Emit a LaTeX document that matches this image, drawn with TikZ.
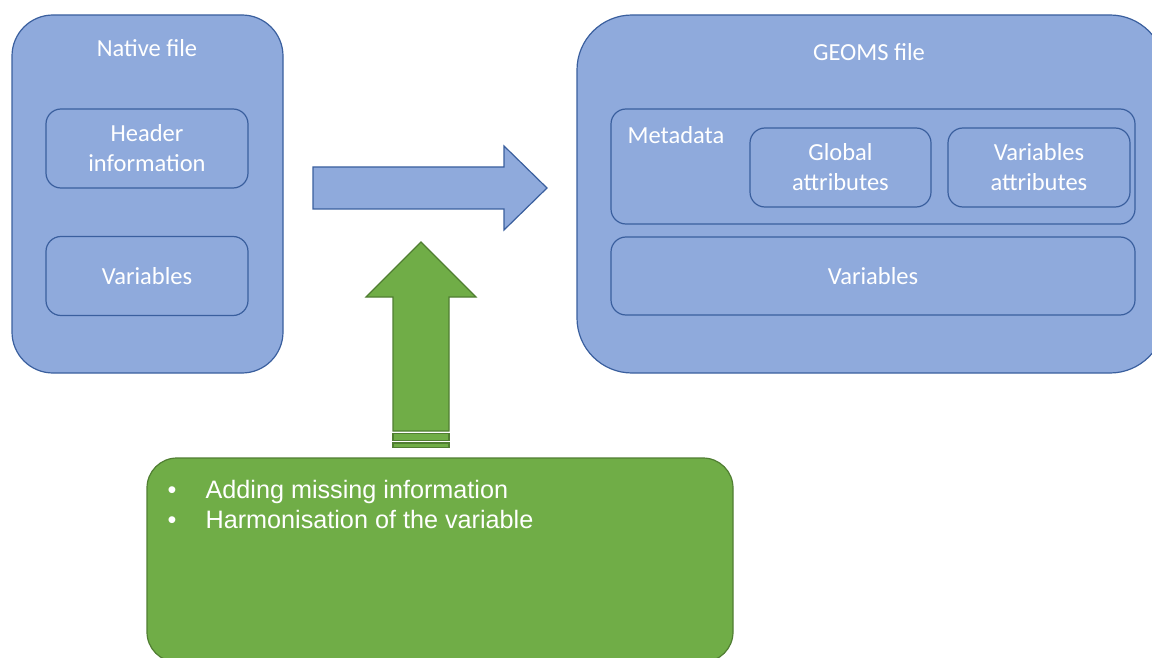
\documentclass[tikz,border=0pt]{standalone}
\usepackage{fontspec}
\setmainfont{Carlito}
\newfontfamily\listfont{Liberation Sans}
\usetikzlibrary{positioning}
\definecolor{boxblue}{HTML}{8FAADC}
\definecolor{lineblue}{HTML}{3A5F9E}
\definecolor{boxgreen}{HTML}{70AD47}
\definecolor{linegreen}{HTML}{507E32}

\begin{document}
\begin{tikzpicture}[x=1pt, y=-1pt, line width=1.2pt,
    file/.style = {draw=lineblue, fill=boxblue, inner sep=0pt},
    part/.style = {draw=lineblue, fill=boxblue, rounded corners=15pt, inner sep=0pt, text=white, align=center, font=\fontsize{24.5}{30}\selectfont},
    title/.style = {text=white, inner sep=0pt, font=\fontsize{24.5}{30}\selectfont},
    flow/.style = {draw=lineblue, fill=boxblue},
    push/.style = {draw=linegreen, fill=boxgreen}]
    \useasboundingbox (0,0) rectangle (1152,658);
    \clip (0,0) rectangle (1152,658);
    % native file
    \node[file, rounded corners=41pt, minimum width=271pt, minimum height=358pt] (native) at (147.5,194) {};
    \node[title] (nativetitle) at (147,48) {Native file};
    \node[part, minimum width=202pt, minimum height=79pt] (header) at (147,148.5) {Header\\information};
    \node[part, minimum width=202pt, minimum height=79pt] (nvars) at (147,276) {Variables};
    % geoms file
    \node[file, rounded corners=55pt, minimum width=588pt, minimum height=358pt] (geoms) at (871,194) {};
    \node[title] (geomstitle) at (869,52) {GEOMS file};
    \node[part, minimum width=524pt, minimum height=115pt] (meta) at (873,166.5) {};
    \node[title, anchor=west] (metatitle) at (627,135) {Metadata};
    \node[part, minimum width=181pt, minimum height=79pt] (global) at (840.5,167.5) {Global\\attributes};
    \node[part, minimum width=182pt, minimum height=79pt] (varattr) at (1039,167.5) {Variables\\attributes};
    \node[part, minimum width=524pt, minimum height=78pt] (gvars) at (873,276) {Variables};
    % conversion arrow
    \draw[flow] (313,167) -- (504,167) -- (504,146) -- (547,188) -- (504,230) -- (504,209) -- (313,209) -- cycle;
    % processing arrow
    \draw[push] (393,431) -- (393,297) -- (366,297) -- (421,242) -- (476,297) -- (449,297) -- (449,431) -- cycle;
    \draw[push] (393,433.5) rectangle (449,440.5);
    \draw[push] (393,443) rectangle (449,447.5);
    % processing steps
    \node[push, rounded corners=30pt, minimum width=586pt, minimum height=204pt, inner sep=0pt] (steps) at (440,560) {};
    \node[anchor=north west, inner sep=0pt, text=white, font=\listfont\fontsize{25.2}{30}\selectfont] (list) at (167,477)
        {\begin{tabular}{@{}p{38pt}@{}l@{}}\textbullet & Adding missing information\\ \textbullet & Harmonisation of the variable\end{tabular}};
\end{tikzpicture}
\end{document}
